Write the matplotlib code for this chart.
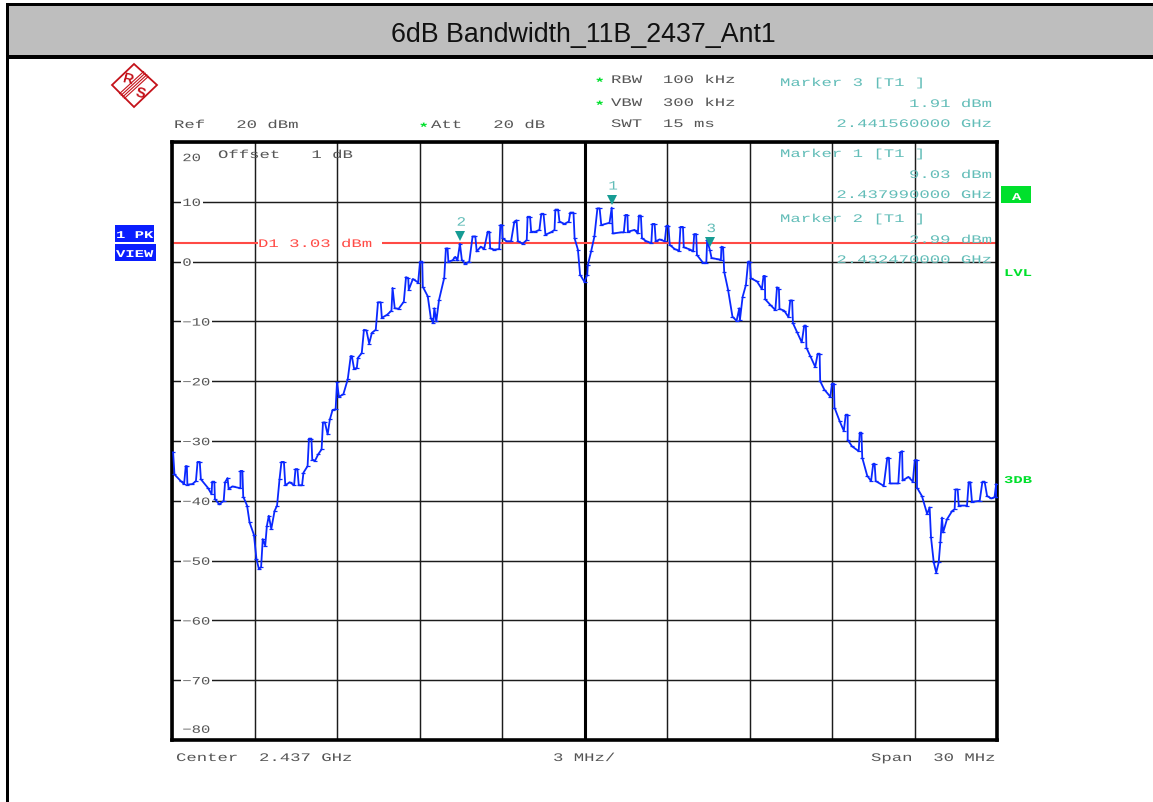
# -*- coding: utf-8 -*-
import matplotlib
matplotlib.use("Agg")
import matplotlib.pyplot as plt
import matplotlib.patheffects as pe
from matplotlib.patches import Polygon, Rectangle
from matplotlib.transforms import Affine2D

W, H = 1153, 803

# trace, offset from 2.437 GHz in MHz and level in dBm
freq_mhz = [
    -14.96, -14.91, -14.68, -14.56, -14.5, -14.46, -14.44, -14.26, -14.13, -14.07, -13.99, -13.95, -13.7, -13.56,
    -13.54, -13.46, -13.44, -13.28, -13.12, -13.07, -12.98, -12.94, -12.8, -12.51, -12.51, -12.44, -12.41, -12.27,
    -12.18, -12.02, -11.93, -11.84, -11.76, -11.7, -11.61, -11.55, -11.48, -11.39, -11.27, -11.18, -11.09, -11.02,
    -10.93, -10.88, -10.72, -10.56, -10.51, -10.44, -10.39, -10.27, -10.22, -10.07, -10.02, -9.93, -9.9, -9.8,
    -9.68, -9.56, -9.51, -9.44, -9.34, -9.26, -9.16, -9.05, -9.0, -8.93, -8.77, -8.61, -8.5, -8.46, -8.38, -8.28,
    -8.24, -8.1, -8.02, -7.93, -7.83, -7.73, -7.59, -7.51, -7.41, -7.37, -7.18, -7.02, -6.98, -6.9, -6.76, -6.57,
    -6.49, -6.41, -6.39, -6.24, -6.05, -5.98, -5.9, -5.88, -5.7, -5.59, -5.5, -5.46, -5.39, -5.29, -5.1,
    -5.04, -4.98, -4.95, -4.8, -4.7, -4.62, -4.53, -4.46, -4.34, -4.19, -4.07, -3.97, -3.92, -3.77, -3.65, -3.52,
    -3.46, -3.43, -3.28, -3.1, -3.06, -3.0, -2.98, -2.83, -2.67, -2.55, -2.47, -2.42, -2.25, -2.1, -2.07, -1.98,
    -1.94, -1.79, -1.64, -1.57, -1.49, -1.42, -1.22, -1.09, -1.06, -0.96, -0.91, -0.73, -0.57, -0.52, -0.4, -0.36,
    -0.24, -0.16, 0.0, 0.1, 0.12, 0.24, 0.36, 0.47, 0.55, 0.61, 0.91, 0.99, 1.03, 1.34, 1.43, 1.49, 1.56, 1.58,
    1.82, 1.94, 1.98, 2.05, 2.09, 2.25, 2.43, 2.47, 2.55, 2.59, 2.73, 2.92, 2.98, 3.05, 3.1, 3.28, 3.44, 3.49,
    3.58, 3.61, 3.85, 3.95, 3.99, 4.06, 4.09, 4.31, 4.43, 4.46, 4.56, 4.62, 4.86, 4.96, 4.98, 5.04, 5.08, 5.22,
    5.38, 5.53, 5.63, 5.65, 5.75, 5.87, 5.95, 6.01, 6.05, 6.27, 6.45, 6.51, 6.56, 6.57, 6.75, 6.94, 7.0, 7.07,
    7.09, 7.26, 7.42, 7.48, 7.55, 7.58, 7.72, 7.9, 7.99, 8.05, 8.07, 8.21, 8.39, 8.48, 8.55, 8.57, 8.72, 8.94,
    9.0, 9.07, 9.09, 9.28, 9.43, 9.5, 9.57, 9.57, 9.73, 9.97, 10.01, 10.07, 10.1, 10.28, 10.42, 10.5, 10.55,
    10.59, 10.88, 11.01, 11.07, 11.11, 11.41, 11.48, 11.55, 11.57, 11.78, 11.94, 12.01, 12.09, 12.09, 12.27,
    12.46, 12.55, 12.6, 12.7, 12.79, 12.88, 12.94, 13.0, 13.04, 13.18, 13.37, 13.46, 13.49, 13.57, 13.61, 13.91,
    13.97, 14.03, 14.09, 14.37, 14.47, 14.55, 14.64, 14.79, 14.91, 14.97, 15.0,
]
level_dbm = [
    -31.9, -35.6, -36.7, -37.2, -34.2, -34.2, -37.3, -37.2, -36.7, -33.5, -33.5, -36.4, -37.8, -38.9,
    -36.8, -36.8, -39.7, -40.6, -40.0, -36.9, -36.2, -38.0, -37.6, -37.9, -35.0, -35.0, -39.3, -40.8,
    -43.6, -45.7, -49.7, -51.4, -51.1, -46.4, -47.5, -44.2, -42.5, -44.7, -41.7, -40.8, -36.4, -33.5,
    -33.5, -37.4, -36.9, -37.4, -34.7, -34.7, -37.4, -37.4, -35.3, -34.2, -29.6, -29.6, -33.1, -33.3,
    -32.2, -31.4, -26.9, -26.9, -28.9, -26.4, -24.8, -24.7, -20.2, -22.6, -22.2, -19.7, -15.8, -15.8, -17.9, -17.8,
    -16.1, -15.3, -11.4, -11.5, -13.7, -11.9, -11.4, -6.8, -6.8, -9.4, -8.9, -8.2, -4.4, -7.8, -7.9, -6.7,
    -2.6, -2.8, -4.7, -2.9, -3.5, 0.0, 0.0, -4.2, -5.8, -9.4, -10.3, -7.8, -10.0, -6.4, -2.7,
    2.2, 2.2, 0.0, 0.2, 0.8, 0.2, 2.99, 0.3, -0.4, 0.0, 4.2, 4.2, 1.7, 2.5, 2.1, 5.0,
    5.0, 2.2, 2.0, 2.1, 6.1, 6.1, 3.9, 3.4, 3.4, 6.7, 6.9, 3.4, 3.0, 3.6, 7.5, 7.5,
    5.0, 5.0, 5.3, 8.0, 8.0, 4.5, 4.9, 5.3, 8.7, 8.7, 6.7, 6.3, 6.7, 8.2, 8.2, 3.9,
    2.0, -2.2, -3.4, -2.2, -0.6, 1.7, 4.2, 8.9, 8.9, 6.1, 6.5, 9.03, 4.7, 4.9, 4.9, 7.8, 7.8, 5.0,
    5.3, 4.7, 7.7, 7.7, 3.9, 3.4, 3.1, 6.3, 6.3, 3.4, 3.7, 3.4, 6.0, 6.0, 2.8, 2.1, 1.8, 5.8,
    5.8, 2.4, 2.0, 1.7, 4.6, 4.6, 1.1, -0.2, -0.2, 3.6, 1.91, 0.6, 0.4, 0.3, 2.5, 2.4, -1.7, -4.7,
    -9.2, -9.9, -7.8, -9.8, -5.9, -3.9, 0.0, 0.0, -2.8, -3.3, -4.6, -2.4, -2.4, -6.3, -7.2, -8.1, -4.3, -4.6,
    -7.9, -8.2, -9.3, -6.5, -6.5, -10.3, -11.7, -13.5, -10.7, -10.7, -14.4, -15.8, -17.6, -15.4, -15.4, -20.0, -21.4, -22.6,
    -20.4, -20.4, -24.4, -26.7, -28.3, -25.6, -25.6, -29.8, -30.9, -31.7, -28.6, -28.6, -32.8, -35.8, -36.7, -33.8, -33.8,
    -36.7, -37.5, -32.8, -32.8, -37.1, -37.1, -31.9, -31.7, -36.6, -36.0, -36.8, -33.2, -33.2, -37.8, -39.2,
    -42.2, -41.1, -46.1, -50.3, -52.0, -50.3, -46.9, -42.8, -45.3, -43.1, -41.7, -41.4, -38.1, -38.1, -40.8, -40.8,
    -36.9, -36.9, -40.2, -40.0, -36.8, -36.8, -39.2, -39.6, -39.4, -37.2, -39.4,
]

marker_names = ["1", "2", "3"]
marker_freq = [0.99, -4.53, 4.56]
marker_level = [9.03, 2.99, 1.91]
d1_level = 3.03

x_ticks = [-15, -12, -9, -6, -3, 0, 3, 6, 9, 12, 15]
y_ticks = [20, 10, 0, -10, -20, -30, -40, -50, -60, -70, -80]
y_labels = ["20", "10", "0", "\u221210", "\u221220", "\u221230", "\u221240", "\u221250", "\u221260", "\u221270", "\u221280"]

GREY = "#555555"
TEAL = "#62BDB8"
GREEN = "#00E02C"
BLUE = "#0A1EFF"
RED = "#FF4A45"


class Squash(pe.AbstractPathEffect):
    """the analyzer font is wide and low, so flatten the glyphs on their baseline"""

    def __init__(self, ratio):
        super().__init__()
        self.ratio = ratio

    def draw_path(self, renderer, gc, tpath, affine, rgbFace=None):
        renderer.draw_path(gc, tpath, Affine2D().scale(1, self.ratio) + affine, rgbFace)


def fx(x):
    return x / W


def fy(y):
    return 1 - y / H


def box(x0, y0, x1, y1, color, z=1):
    fig.add_artist(Rectangle((fx(x0), fy(y1)), (x1 - x0) / W, (y1 - y0) / H,
                             transform=fig.transFigure, fc=color, ec="none", zorder=z))


def label(x, y, s, color=GREY, ha="left", weight="normal", size=12.45, ratio=0.67):
    fig.text(fx(x), fy(y), s, color=color, ha=ha, va="baseline", family="Liberation Mono",
             fontsize=size, fontweight=weight, path_effects=[Squash(ratio)], zorder=5)


fig = plt.figure(figsize=(W / 100, H / 100), dpi=100, facecolor="white")

# header band and page frame
box(5.5, 4, W, 7, "black")
box(8, 7, W, 56, "#BEBEBE")
box(5.5, 56, W, 59.5, "black")
box(5.5, 4, 8.5, H, "black")
fig.text(fx(583), fy(35.5), "6dB Bandwidth_11B_2437_Ant1", ha="center", va="center",
         family="Liberation Sans", fontsize=19.3, color="#111111", zorder=5)

ax = fig.add_axes([172 / W, 1 - 741 / H, 825 / W, 598 / H])
ax.set_xlim(-15, 15)
ax.set_ylim(-80, 20)
ax.set_xticks(x_ticks)
ax.set_yticks(y_ticks)
ax.tick_params(length=0, labelbottom=False, labelleft=False)
ax.grid(True, color="#1c1c1c", lw=1.05)
ax.set_axisbelow(True)
ax.axvline(0, color="black", lw=2.2, zorder=1.5)
for side in ax.spines.values():
    side.set_linewidth(2.6)
    side.set_color("black")

# display line D1, broken where its label sits
ax.hlines([d1_level, d1_level], [-15, -7.35], [-11.89, 15], color=RED, lw=1.5, zorder=2)
label(258, 248, "D1 3.03 dBm", color=RED)

ax.plot(freq_mhz, level_dbm, color="#0A28FF", lw=1.3, marker="_", ms=3.5, mew=0.9, zorder=3)

for name, f, lev in zip(marker_names, marker_freq, marker_level):
    ax.plot(f, lev + 1.3, marker="v", color="#169C94", ms=7, mew=0, zorder=4)
    ax.annotate(name, (f, lev), xytext=(1, 13), textcoords="offset points", ha="center",
                va="baseline", color=TEAL, family="Liberation Mono", fontsize=11.5,
                path_effects=[Squash(0.8)], zorder=5)

# level scale is written inside the grid, with the grid broken behind it
for val, txt in zip(y_ticks, y_labels):
    yy = val - 0.7
    if val == 20:
        yy = 20 - 3.2
    if val == -80:
        yy = -78.8
    ax.text(0.0125, yy, txt, transform=ax.get_yaxis_transform(), color=GREY, va="baseline",
            family="Liberation Mono", fontsize=11.2, path_effects=[Squash(0.72)],
            bbox=dict(fc="white", ec="none", pad=1.2), zorder=2.5)

# instrument settings
label(174, 129, "Ref   20 dBm")
label(431, 129, "Att   20 dB")
label(611, 84, "RBW  100 kHz")
label(611, 107, "VBW  300 kHz")
label(611, 128, "SWT  15 ms")
label(218, 159, "Offset   1 dB")
label(176, 762, "Center  2.437 GHz")
label(553, 762, "3 MHz/")
label(871, 762, "Span  30 MHz")
for sx, sy in [(418.5, 132), (594.5, 87), (594.5, 110)]:
    label(sx, sy, "*", color=GREEN, weight="bold")

# marker readouts
for top, title, lev_txt, freq_txt in [
    (87, "Marker 3 [T1 ]", "1.91 dBm", "2.441560000 GHz"),
    (158, "Marker 1 [T1 ]", "9.03 dBm", "2.437990000 GHz"),
    (223, "Marker 2 [T1 ]", "2.99 dBm", "2.432470000 GHz"),
]:
    label(780, top, title, color=TEAL)
    label(992, top + 21, lev_txt, color=TEAL, ha="right")
    label(992, top + 41, freq_txt, color=TEAL, ha="right")

# side flags
box(115, 226, 154, 243, BLUE, z=2)
box(115, 245, 156, 262, BLUE, z=2)
box(1001, 187, 1031, 204, GREEN, z=2)
label(116, 239, "1 PK", color="white", weight="bold", size=11.2)
label(116, 258, "VIEW", color="white", weight="bold", size=11.2)
label(1012, 201, "A", color="white", weight="bold", size=11.2)
label(1004, 277, "LVL", color=GREEN, weight="bold", size=11.2)
label(1004, 484, "3DB", color=GREEN, weight="bold", size=11.2)

# R&S logo
LOGO = "#C4121A"
fig.add_artist(Polygon([(fx(112), fy(86)), (fx(134), fy(65)), (fx(157), fy(86)), (fx(134), fy(108))],
                       closed=True, fc="white", ec=LOGO, lw=1.3, transform=fig.transFigure, zorder=2))
for off in (-2.4, -0.8, 0.8, 2.4):
    fig.add_artist(plt.Line2D([fx(122 + off), fx(146 + off)], [fy(97 + off), fy(75 + off)],
                              color=LOGO, lw=0.8, transform=fig.transFigure, zorder=3))
fig.text(fx(128), fy(79), "R", color=LOGO, ha="center", va="center", family="Liberation Sans",
         fontsize=10.5, fontweight="bold", rotation=-15, zorder=4)
fig.text(fx(140), fy(93), "S", color=LOGO, ha="center", va="center", family="Liberation Sans",
         fontsize=10.5, fontweight="bold", rotation=-15, zorder=4)

fig.savefig("out.png", dpi=100)
